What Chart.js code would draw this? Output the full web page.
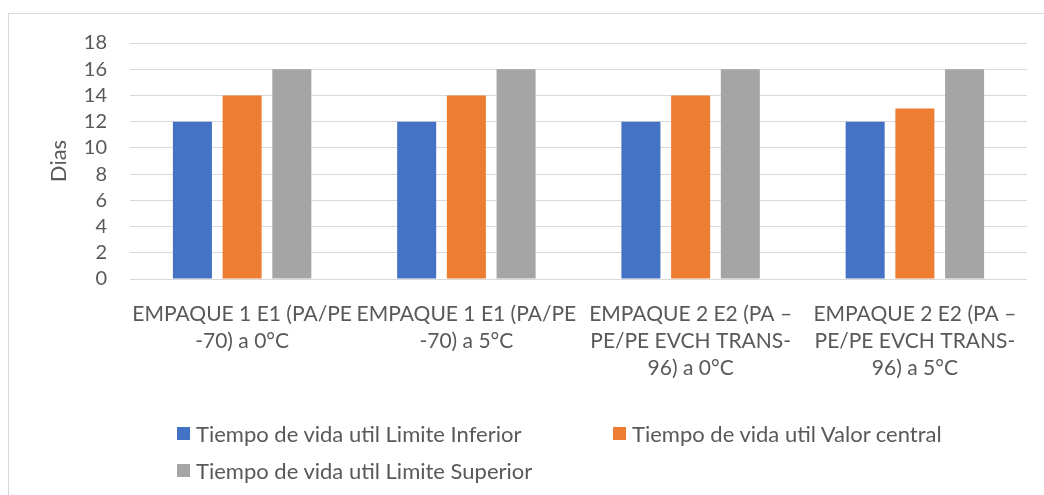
<!DOCTYPE html>
<html>
<head>
<meta charset="utf-8">
<script src="https://cdn.jsdelivr.net/npm/chart.js@4/dist/chart.umd.min.js"></script>
<style>
  html, body { margin:0; padding:0; background:#fff; }
  #wrap { position:relative; width:1044px; height:495px; overflow:hidden; background:#fff; }
  #frame { position:absolute; left:8px; top:13px; width:1100px; height:600px; border:1px solid #d9d9d9; box-sizing:border-box; }
  #chart { position:absolute; left:0; top:0; }
  #legend { position:absolute; left:177px; top:420px; display:grid; grid-template-columns:436px 436px; row-gap:10px;
            font-family:Lato, sans-serif; font-size:22px; color:#595959; }
  #legend .item { display:flex; align-items:center; height:27px; white-space:nowrap; }
  #legend .box { width:13px; height:13px; margin-right:6px; flex:none; }
</style>
</head>
<body>
<div id="wrap">
  <div id="frame"></div>
  <canvas id="chart" width="1044" height="495"></canvas>
  <div id="legend"></div>
</div>
<script>
const categories = [
  ['EMPAQUE 1 E1 (PA/PE', '-70) a 0°C'],
  ['EMPAQUE 1 E1 (PA/PE', '-70) a 5°C'],
  ['EMPAQUE 2 E2 (PA –', 'PE/PE EVCH TRANS-', '96) a 0°C'],
  ['EMPAQUE 2 E2 (PA –', 'PE/PE EVCH TRANS-', '96) a 5°C']
];
const seriesNames = [
  'Tiempo de vida util Limite Inferior',
  'Tiempo de vida util Valor central',
  'Tiempo de vida util Limite Superior'
];
const limiteInferior = [12, 12, 12, 12];
const valorCentral   = [14, 14, 14, 13];
const limiteSuperior = [16, 16, 16, 16];
const yTicks = [0, 2, 4, 6, 8, 10, 12, 14, 16, 18];

const colors = ['#4472c4', '#ed7d31', '#a5a5a5'];
const txt = '#595959';
const grid = '#d9d9d9';
const fam = 'Lato, sans-serif';

const ctx = document.getElementById('chart').getContext('2d');
const chart = new Chart(ctx, {
  type: 'bar',
  data: {
    labels: categories,
    datasets: [limiteInferior, valorCentral, limiteSuperior].map((d, i) => ({
      label: seriesNames[i], data: d, backgroundColor: colors[i],
      categoryPercentage: 0.665, barPercentage: 0.785
    }))
  },
  options: {
    responsive: false, animation: false,
    layout: { padding: { left: 40, top: 43, right: 17, bottom: 100 } },
    plugins: { legend: { display: false }, tooltip: { enabled: false } },
    scales: {
      x: {
        afterFit: s => { s.height = 116; },
        grid: { display: false }, border: { display: false },
        ticks: { color: txt, font: { family: fam, size: 21, lineHeight: 1.29 }, maxRotation: 0, autoSkip: false, padding: 14 }
      },
      y: {
        min: 0, max: yTicks[yTicks.length - 1],
        afterBuildTicks: s => { s.ticks = yTicks.map(v => ({ value: v })); },
        afterFit: s => { s.width = 90; },
        grid: { color: grid, lineWidth: 1, drawTicks: false }, border: { display: false },
        ticks: { color: txt, font: { family: fam, size: 20 }, padding: 23, autoSkip: false },
        title: { display: true, text: 'Dias', color: txt, font: { family: fam, size: 22 }, padding: { top: 6, bottom: 10 } }
      }
    }
  }
});

const legendEl = document.getElementById('legend');
chart.data.datasets.forEach(ds => {
  const it = document.createElement('div');
  it.className = 'item';
  it.innerHTML = '<span class="box" style="background:' + ds.backgroundColor + '"></span><span></span>';
  it.lastChild.textContent = ds.label;
  legendEl.appendChild(it);
});
</script>
</body>
</html>
